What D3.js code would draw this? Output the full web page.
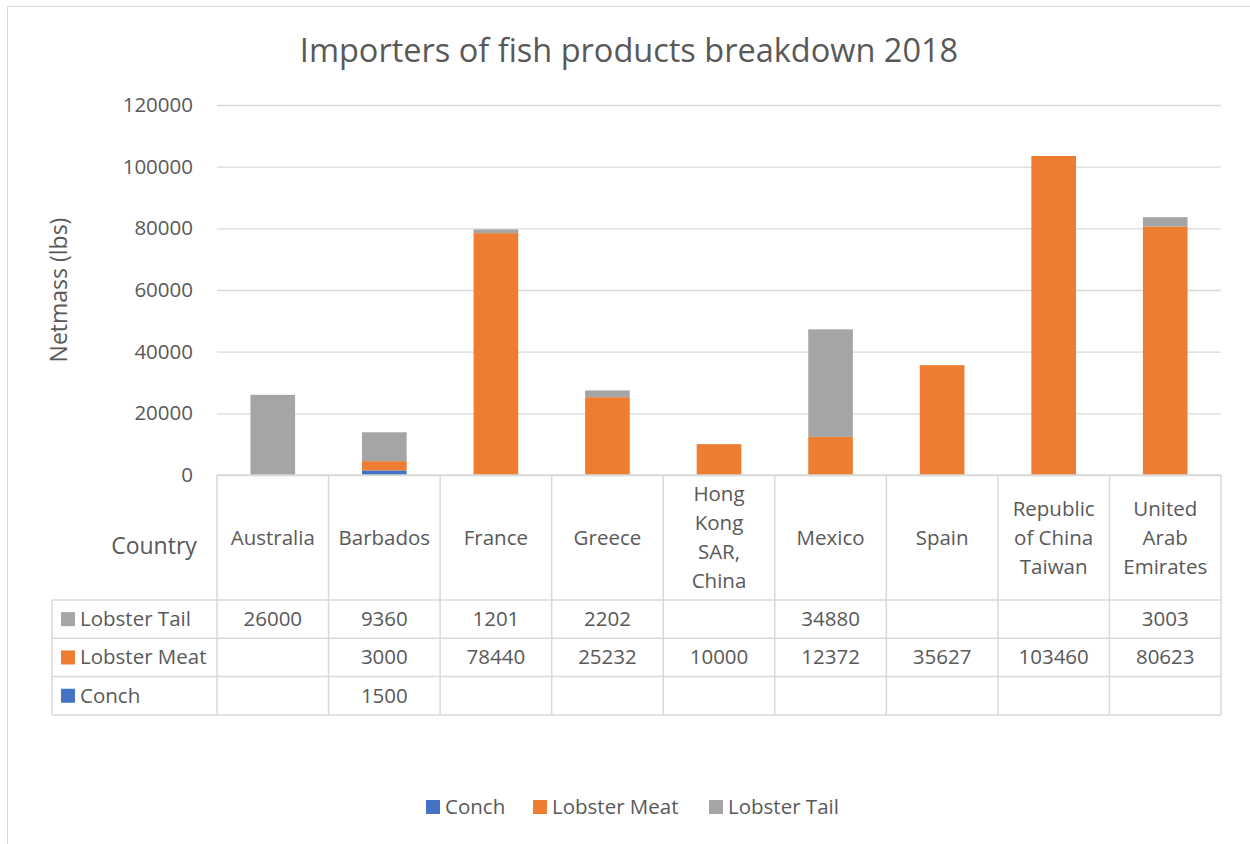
<!DOCTYPE html>
<html>
<head>
<meta charset="utf-8">
<script src="https://cdn.jsdelivr.net/npm/d3@7"></script>
<style>
  body { margin: 0; background: #fff; }
  text { font-family: "Open Sans", "Noto Sans", sans-serif; fill: #595959; }
</style>
</head>
<body>
<div id="chart"></div>
<script>
const countries = ['Australia', 'Barbados', 'France', 'Greece', 'Hong Kong SAR, China', 'Mexico', 'Spain', 'Republic of China Taiwan', 'United Arab Emirates'];
const countryLines = [['Australia'], ['Barbados'], ['France'], ['Greece'], ['Hong', 'Kong', 'SAR,', 'China'], ['Mexico'], ['Spain'], ['Republic', 'of China', 'Taiwan'], ['United', 'Arab', 'Emirates']];
const conch = [null, 1500, null, null, null, null, null, null, null];
const lobsterMeat = [null, 3000, 78440, 25232, 10000, 12372, 35627, 103460, 80623];
const lobsterTail = [26000, 9360, 1201, 2202, null, 34880, null, null, 3003];
const seriesNames = ['Conch', 'Lobster Meat', 'Lobster Tail'];
const seriesColors = ['#4472C4', '#ED7D31', '#A5A5A5'];
const yTicks = [0, 20000, 40000, 60000, 80000, 100000, 120000];

const width = 1250;
const height = 844;
const plotLeft = 217;
const plotRight = 1221;
const plotTop = 105;
const plotBottom = 475;
const headerBottom = 600;
const rowH = 38.3;
const tableLeft = 52;
const gridColor = '#D9D9D9';
const fontSize = '20.5px';

const svg = d3.select('#chart').append('svg')
  .attr('width', width)
  .attr('height', height);

// chart border
svg.append('rect')
  .attr('x', 7.5).attr('y', 6.5)
  .attr('width', width + 10).attr('height', height + 10)
  .attr('fill', 'none')
  .attr('stroke', '#D9D9D9');

svg.append('text')
  .attr('x', 629).attr('y', 62)
  .attr('text-anchor', 'middle')
  .style('font-size', '32.5px')
  .text('Importers of fish products breakdown 2018');

/* Scales */
const x = d3.scaleBand()
  .domain(countries)
  .range([plotLeft, plotRight])
  .paddingInner(0)
  .paddingOuter(0);

const y = d3.scaleLinear()
  .domain([0, 120000])
  .range([plotBottom, plotTop]);

/* Gridlines + y axis */
const yAxis = d3.axisLeft(y)
  .tickValues(yTicks)
  .tickSizeInner(-(plotRight - plotLeft))
  .tickSizeOuter(0)
  .tickPadding(24)
  .tickFormat(d3.format('d'));

svg.append('g')
  .attr('class', 'y axis')
  .attr('transform', `translate(${plotLeft},0)`)
  .call(yAxis)
  .call(g => {
    g.select('.domain').remove();
    g.selectAll('.tick line').attr('stroke', gridColor).attr('stroke-width', 1.3);
    g.selectAll('.tick text')
      .style('font-size', fontSize)
      .style('font-family', '"Open Sans", "Noto Sans", sans-serif')
      .attr('fill', '#595959');
  });

svg.append('text')
  .attr('transform', `translate(67, ${(plotTop + plotBottom) / 2}) rotate(-90)`)
  .attr('text-anchor', 'middle')
  .style('font-size', '23px')
  .text('Netmass (lbs)');

/* Stacked bars */
const rows = countries.map((c, i) => ({
  country: c,
  'Conch': conch[i] || 0,
  'Lobster Meat': lobsterMeat[i] || 0,
  'Lobster Tail': lobsterTail[i] || 0
}));

const stacked = d3.stack().keys(seriesNames)(rows);
const barW = x.bandwidth() * 0.4;

svg.append('g').selectAll('g')
  .data(stacked).enter()
  .append('g')
  .attr('fill', (d, i) => seriesColors[i])
  .selectAll('rect')
  .data(d => d).enter()
  .append('rect')
  .attr('x', d => x(d.data.country) + (x.bandwidth() - barW) / 2)
  .attr('y', d => y(d[1]))
  .attr('width', barW)
  .attr('height', d => y(d[0]) - y(d[1]));

/* Data table */
const table = svg.append('g')
  .attr('stroke', gridColor)
  .attr('stroke-width', 1.5);

const tableBottom = headerBottom + rowH * 3;

table.append('line')
  .attr('x1', plotLeft).attr('x2', plotRight)
  .attr('y1', plotBottom).attr('y2', plotBottom);

[0, 1, 2, 3].forEach(r => {
  table.append('line')
    .attr('x1', tableLeft).attr('x2', plotRight)
    .attr('y1', headerBottom + r * rowH).attr('y2', headerBottom + r * rowH);
});

countries.concat(['end']).forEach((c, i) => {
  const xx = i < countries.length ? x(c) : plotRight;
  table.append('line')
    .attr('x1', xx).attr('x2', xx)
    .attr('y1', plotBottom).attr('y2', tableBottom);
});

table.append('line')
  .attr('x1', tableLeft).attr('x2', tableLeft)
  .attr('y1', headerBottom).attr('y2', tableBottom);

// category headers
const lineH = 29;
const headerMid = (plotBottom + headerBottom) / 2;
countries.forEach((c, i) => {
  const lines = countryLines[i];
  const t = svg.append('text')
    .attr('text-anchor', 'middle')
    .style('font-size', fontSize);
  lines.forEach((ln, j) => {
    t.append('tspan')
      .attr('x', x(c) + x.bandwidth() / 2)
      .attr('y', headerMid + 7 + (j - (lines.length - 1) / 2) * lineH)
      .text(ln);
  });
});

svg.append('text')
  .attr('x', 154).attr('y', headerMid + 16)
  .attr('text-anchor', 'middle')
  .style('font-size', '23px')
  .text('Country');

// rows: Lobster Tail, Lobster Meat, Conch
const tableSeries = [
  { name: 'Lobster Tail', values: lobsterTail, color: seriesColors[2] },
  { name: 'Lobster Meat', values: lobsterMeat, color: seriesColors[1] },
  { name: 'Conch', values: conch, color: seriesColors[0] }
];

tableSeries.forEach((s, r) => {
  const cy = headerBottom + rowH * r + rowH / 2;
  svg.append('rect')
    .attr('x', 61).attr('y', cy - 7)
    .attr('width', 14).attr('height', 14)
    .attr('fill', s.color);
  svg.append('text')
    .attr('x', 80).attr('y', cy + 7)
    .style('font-size', fontSize)
    .text(s.name);
  s.values.forEach((v, i) => {
    if (v == null) return;
    svg.append('text')
      .attr('x', x(countries[i]) + x.bandwidth() / 2)
      .attr('y', cy + 7)
      .attr('text-anchor', 'middle')
      .style('font-size', fontSize)
      .text(v);
  });
});

/* Legend */
const legendX = [426, 533, 709];
seriesNames.forEach((name, i) => {
  svg.append('rect')
    .attr('x', legendX[i]).attr('y', 800)
    .attr('width', 14).attr('height', 14)
    .attr('fill', seriesColors[i]);
  svg.append('text')
    .attr('x', legendX[i] + 19).attr('y', 814)
    .style('font-size', fontSize)
    .text(name);
});
</script>
</body>
</html>
